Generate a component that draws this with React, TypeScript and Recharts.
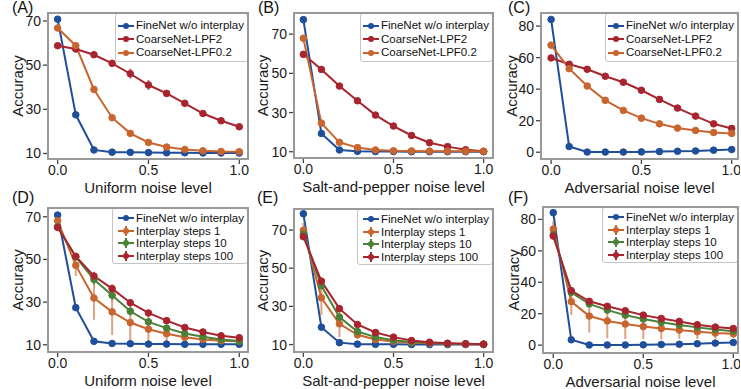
import React from "react";
import {
  LineChart,
  Line,
  XAxis,
  YAxis,
  ErrorBar,
  Legend,
} from "recharts";

// noise levels shared by every panel
const noiseLevels = [0, 0.1, 0.2, 0.3, 0.4, 0.5, 0.6, 0.7, 0.8, 0.9, 1.0];
const xTicks = [0, 0.5, 1.0];
const ticks10to70 = [10, 30, 50, 70];
const ticks0to80 = [0, 20, 40, 60, 80];

// (A) uniform noise
const fineA = [70.8, 27.5, 11.6, 10.6, 10.5, 10.4, 10.3, 10.3, 10.2, 10.2, 10.2];
const lpf2A = [58.8, 57.3, 54.7, 50.8, 46.1, 41.0, 37.2, 32.7, 28.1, 24.8, 22.1];
const lpf2AErr = [0.5, 0.6, 1.0, 1.6, 2.3, 2.3, 1.0, 0.8, 0.6, 0.5, 0.5];
const lpf02A = [66.8, 58.8, 39.0, 26.2, 19.1, 15.0, 12.9, 11.8, 11.2, 10.9, 10.8];
const lpf02AErr = [0.6, 0.8, 1.5, 1.2, 0.8, 0.5, 0.4, 0.3, 0.3, 0.3, 0.3];

// (B) salt-and-pepper noise
const fineB = [77.4, 19.3, 10.9, 10.2, 10.1, 10.1, 10.0, 10.0, 10.0, 10.0, 10.0];
const lpf2B = [59.7, 52.0, 43.5, 36.0, 28.7, 23.1, 18.3, 14.6, 12.6, 11.0, 10.2];
const lpf02B = [67.9, 24.6, 14.8, 12.1, 10.9, 10.5, 10.4, 10.3, 10.3, 10.2, 10.2];

// (C) adversarial noise
const fineC = [84.2, 3.6, 0.1, 0.1, 0.1, 0.2, 0.4, 0.6, 0.8, 1.3, 1.7];
const lpf2C = [59.8, 55.8, 52.6, 48.2, 44.4, 39.3, 33.5, 28.0, 22.9, 18.0, 15.1];
const lpf02C = [67.9, 53.0, 42.0, 32.9, 26.5, 21.6, 18.0, 15.3, 13.8, 12.5, 11.9];
const lpf02CErr = [0.8, 1.2, 1.5, 1.2, 1.5, 0.8, 0.6, 0.5, 0.4, 0.4, 0.4];

// (D) uniform noise, interplay steps
const fineD = [70.8, 27.4, 11.6, 10.6, 10.5, 10.3, 10.3, 10.2, 10.2, 10.2, 10.2];
const s1D = [68.1, 47.2, 31.9, 25.4, 20.4, 17.3, 15.2, 13.5, 12.5, 11.9, 11.6];
const s1DErr = [1.5, 5.0, 10.2, 10.8, 8.5, 6.0, 4.0, 3.0, 2.2, 1.5, 1.0];
const s10D = [65.3, 51.2, 40.6, 33.2, 25.7, 20.7, 17.8, 15.3, 13.8, 12.5, 11.7];
const s10DErr = [1.0, 1.5, 2.5, 2.5, 2.0, 1.5, 1.0, 1.0, 0.8, 0.6, 0.5];
const s100D = [65.0, 51.4, 42.2, 36.3, 29.7, 24.9, 21.3, 18.1, 16.0, 14.2, 13.3];
const s100DErr = [1.0, 1.5, 2.0, 2.0, 1.5, 1.2, 1.0, 0.8, 0.6, 0.5, 0.5];

// (E) salt-and-pepper noise, interplay steps
const fineE = [78.5, 19.1, 11.0, 10.2, 10.1, 10.1, 10.0, 10.0, 10.0, 10.0, 10.0];
const s1E = [69.8, 34.5, 20.9, 15.1, 12.6, 11.6, 11.0, 10.7, 10.4, 10.2, 10.2];
const s1EErr = [4.0, 9.0, 7.0, 2.0, 1.0, 0.6, 0.4, 0.3, 0.3, 0.2, 0.2];
const s10E = [67.7, 40.8, 24.4, 16.8, 13.9, 12.3, 11.4, 10.9, 10.5, 10.4, 10.2];
const s10EErr = [1.0, 1.5, 1.5, 1.0, 0.6, 0.4, 0.3, 0.3, 0.2, 0.2, 0.2];
const s100E = [66.5, 43.2, 28.8, 20.5, 16.3, 13.9, 12.1, 11.2, 10.7, 10.4, 10.2];
const s100EErr = [1.0, 1.5, 1.5, 1.0, 0.6, 0.4, 0.3, 0.3, 0.2, 0.2, 0.2];

// (F) adversarial noise, interplay steps
const fineF = [84.3, 3.4, 0.1, 0.1, 0.1, 0.2, 0.4, 0.6, 0.9, 1.3, 1.7];
const s1F = [73.8, 27.7, 18.5, 15.4, 13.4, 11.8, 10.6, 9.6, 8.5, 7.7, 7.2];
const s1FErr = [5.0, 8.5, 10.5, 11.0, 9.5, 8.0, 7.0, 5.5, 4.5, 3.5, 2.5];
const s10F = [70.2, 33.6, 26.2, 22.3, 19.1, 16.6, 14.5, 12.8, 11.3, 10.0, 8.9];
const s10FErr = [1.5, 1.5, 1.5, 1.2, 1.0, 1.0, 0.8, 0.8, 0.6, 0.6, 0.5];
const s100F = [69.4, 34.7, 27.9, 24.7, 21.9, 19.1, 17.0, 15.1, 13.0, 11.5, 10.6];
const s100FErr = [1.5, 1.2, 1.2, 1.0, 0.8, 0.8, 0.6, 0.6, 0.5, 0.5, 0.5];

const BLUE = "#1f4e9a";
const RED = "#a8242f";
const ORANGE = "#c9652e";
const GREEN = "#4b8039";
const FRAME = "#999999";
const FONT = "'Liberation Sans', Arial, Helvetica, sans-serif";

type Series = {
  key: string;
  name: string;
  color: string;
  values: number[];
  errors?: number[];
  cross?: boolean;
};

type PanelDef = {
  tag: string;
  tagX: number;
  tagY: number;
  box: { x: number; y: number; w: number; h: number };
  xDomain: [number, number];
  yDomain: [number, number];
  yTicks: number[];
  xLabel: string;
  labelDx: number;
  legendPad: number;
  legendTop: number;
  rowH: number;
  series: Series[];
};

const coarse = (fine: number[], lpf2: number[], lpf02: number[], e2?: number[], e02?: number[]): Series[] => [
  { key: "fine", name: "FineNet w/o interplay", color: BLUE, values: fine },
  { key: "lpf2", name: "CoarseNet-LPF2", color: RED, values: lpf2, errors: e2 },
  { key: "lpf02", name: "CoarseNet-LPF0.2", color: ORANGE, values: lpf02, errors: e02 },
];

const steps = (
  fine: number[],
  s1: number[], e1: number[],
  s10: number[], e10: number[],
  s100: number[], e100: number[]
): Series[] => [
  { key: "fine", name: "FineNet w/o interplay", color: BLUE, values: fine },
  { key: "s1", name: "Interplay steps 1", color: ORANGE, values: s1, errors: e1, cross: true },
  { key: "s10", name: "Interplay steps 10", color: GREEN, values: s10, errors: e10, cross: true },
  { key: "s100", name: "Interplay steps 100", color: RED, values: s100, errors: e100, cross: true },
];

const panels: PanelDef[] = [
  {
    tag: "(A)", tagX: 12, tagY: -1,
    box: { x: 48, y: 13, w: 200, h: 146 },
    xDomain: [-0.053, 1.048], yDomain: [7.5, 73.6], yTicks: ticks10to70,
    xLabel: "Uniform noise level", labelDx: -6, legendPad: 2, legendTop: 5, rowH: 13.5,
    series: coarse(fineA, lpf2A, lpf02A, lpf2AErr, lpf02AErr),
  },
  {
    tag: "(B)", tagX: 258, tagY: -1,
    box: { x: 294, y: 13, w: 199, h: 145 },
    xDomain: [-0.052, 1.052], yDomain: [6.8, 80.8], yTicks: ticks10to70,
    xLabel: "Salt-and-pepper noise level", labelDx: -7, legendPad: 2, legendTop: 5, rowH: 13.5,
    series: coarse(fineB, lpf2B, lpf02B),
  },
  {
    tag: "(C)", tagX: 508, tagY: -1,
    box: { x: 541, y: 13, w: 197, h: 146 },
    xDomain: [-0.056, 1.035], yDomain: [-4.3, 88.3], yTicks: ticks0to80,
    xLabel: "Adversarial noise level", labelDx: -5, legendPad: 2, legendTop: 5, rowH: 13.5,
    series: coarse(fineC, lpf2C, lpf02C, undefined, lpf02CErr),
  },
  {
    tag: "(D)", tagX: 12, tagY: 189,
    box: { x: 48, y: 208, w: 200, h: 144 },
    xDomain: [-0.053, 1.048], yDomain: [6.6, 74.1], yTicks: ticks10to70,
    xLabel: "Uniform noise level", labelDx: -6, legendPad: 5, legendTop: 3, rowH: 12.6,
    series: steps(fineD, s1D, s1DErr, s10D, s10DErr, s100D, s100DErr),
  },
  {
    tag: "(E)", tagX: 257, tagY: 189,
    box: { x: 294, y: 209, w: 199, h: 143 },
    xDomain: [-0.052, 1.052], yDomain: [6.1, 81.0], yTicks: ticks10to70,
    xLabel: "Salt-and-pepper noise level", labelDx: -7, legendPad: 5, legendTop: 3, rowH: 12.6,
    series: steps(fineE, s1E, s1EErr, s10E, s10EErr, s100E, s100EErr),
  },
  {
    tag: "(F)", tagX: 508, tagY: 189,
    box: { x: 543, y: 207, w: 195, h: 146 },
    xDomain: [-0.057, 1.026], yDomain: [-5.0, 87.9], yTicks: ticks0to80,
    xLabel: "Adversarial noise level", labelDx: -5, legendPad: 5, legendTop: 3, rowH: 12.6,
    series: steps(fineF, s1F, s1FErr, s10F, s10FErr, s100F, s100FErr),
  },
];

const buildRows = (series: Series[]) =>
  noiseLevels.map((x, i) => {
    const row: any = { x };
    series.forEach((s) => {
      row[s.key] = s.values[i];
      if (s.errors) row[s.key + "Err"] = s.errors[i];
    });
    return row;
  });

const makeLegend = (p: PanelDef) => () => (
  <div
    style={{
      border: "1px solid #c4c4c4",
      borderRadius: 3,
      background: "#fff",
      padding: `${p.legendTop}px 3px 1px ${p.legendPad}px`,
      fontSize: 11.5,
      lineHeight: `${p.rowH}px`,
      color: "#111",
      whiteSpace: "nowrap",
    }}
  >
    {p.series.map((s) => (
      <div key={s.key} style={{ display: "flex", alignItems: "center", height: p.rowH }}>
        <svg width={17} height={10} style={{ marginRight: 1 }}>
          <line x1={0} y1={5} x2={16} y2={5} stroke={s.color} strokeWidth={2} />
          {s.cross && <line x1={8} y1={0} x2={8} y2={10} stroke={s.color} strokeWidth={2} />}
          <circle cx={8} cy={5} r={3} fill={s.color} />
        </svg>
        <span>{s.name}</span>
      </div>
    ))}
  </div>
);

const Panel: React.FC<{ p: PanelDef }> = ({ p }) => {
  const data = buildRows(p.series);
  const { box } = p;
  return (
    <>
      <div
        style={{
          position: "absolute",
          left: p.tagX,
          top: p.tagY,
          fontSize: 16,
          color: "#111",
        }}
      >
        {p.tag}
      </div>
      <div style={{ position: "absolute", left: box.x - 48, top: box.y - 13 }}>
        <LineChart
          width={box.w + 50}
          height={box.h + 50}
          data={data}
          margin={{ top: 13, right: 2, bottom: 0, left: 0 }}
        >
          <XAxis
            dataKey="x"
            type="number"
            domain={p.xDomain}
            ticks={xTicks}
            allowDataOverflow
            tickFormatter={(v: number) => v.toFixed(1)}
            height={37}
            tickSize={5}
            tickMargin={1}
            axisLine={false}
            tickLine={{ stroke: "#444", strokeWidth: 1.3 }}
            tick={{ fill: "#1a1a1a", fontSize: 14 }}
            label={{ value: p.xLabel, position: "center", dy: 10, fontSize: 15, fill: "#1a1a1a" }}
          />
          <YAxis
            type="number"
            domain={p.yDomain}
            ticks={p.yTicks}
            allowDataOverflow
            width={48}
            tickSize={5}
            tickMargin={2}
            axisLine={false}
            tickLine={{ stroke: "#444", strokeWidth: 1.3 }}
            tick={{ fill: "#1a1a1a", fontSize: 14 }}
            label={{ value: "Accuracy", angle: -90, position: "center", dx: p.labelDx, fontSize: 15, fill: "#1a1a1a" }}
          />
          {p.series.map((s) => (
            <Line
              key={s.key}
              dataKey={s.key}
              name={s.name}
              type="linear"
              stroke={s.color}
              strokeWidth={2}
              dot={{ r: 3.3, fill: s.color, stroke: s.color, strokeWidth: 1 }}
              isAnimationActive={false}
            >
              {s.errors && (
                <ErrorBar
                  dataKey={s.key + "Err"}
                  direction="y"
                  width={0}
                  stroke={s.color}
                  strokeOpacity={0.6}
                  strokeWidth={2}
                />
              )}
            </Line>
          ))}
          <Legend
            layout="vertical"
            align="center"
            verticalAlign="middle"
            content={makeLegend(p)}
            wrapperStyle={{ top: 13, right: 2, left: "auto", width: "auto", height: "auto" }}
          />
        </LineChart>
      </div>
      {/* plot frame */}
      <div
        style={{
          position: "absolute",
          left: box.x - 1,
          top: box.y - 1,
          width: box.w + 2,
          height: box.h + 2,
          border: `2px solid ${FRAME}`,
          boxSizing: "border-box",
          pointerEvents: "none",
        }}
      />
    </>
  );
};

const App: React.FC = () => (
  <div
    style={{
      position: "absolute",
      left: 0,
      top: 0,
      width: 741,
      height: 389,
      background: "#fff",
      fontFamily: FONT,
      overflow: "hidden",
    }}
  >
    {panels.map((p) => (
      <Panel key={p.tag} p={p} />
    ))}
  </div>
);

export default App;
